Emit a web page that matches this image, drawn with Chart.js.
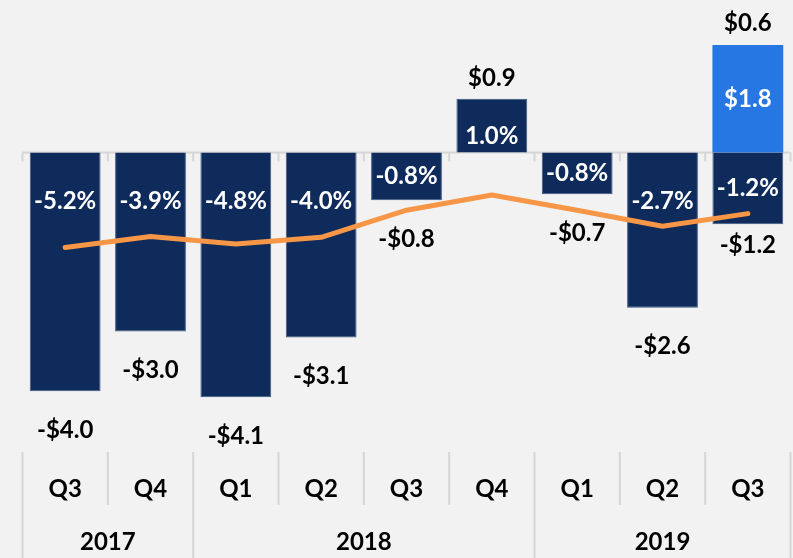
<!DOCTYPE html>
<html>
<head>
<meta charset="utf-8">
<script src="https://cdn.jsdelivr.net/npm/chart.js@4"></script>
<style>
  html, body { margin: 0; padding: 0; background: #f2f2f2; }
  #wrap { width: 793px; height: 558px; position: relative; }
</style>
</head>
<body>
<div id="wrap"><canvas id="c" width="793" height="558"></canvas></div>
<script>
// ---- data ----
const quarters = ['Q3', 'Q4', 'Q1', 'Q2', 'Q3', 'Q4', 'Q1', 'Q2', 'Q3'];
const years = ['2017', '2018', '2019'];
const quartersPerYear = [2, 4, 3];
const baseValues = [-4.0, -3.0, -4.1, -3.1, -0.8, 0.9, -0.7, -2.6, -1.2];
const addValues = [null, null, null, null, null, null, null, null, 1.8];
const pctValues = [-5.2, -3.9, -4.8, -4.0, -0.8, 1.0, -0.8, -2.7, -1.2];

// ---- styles ----
const NAVY = '#0e2b5b';
const LIGHT = '#2676e4';
const ORANGE = '#f79646';
const GRID = '#d6d6d6';
const FONT = 'Lato, "Open Sans", sans-serif';

function fmtDollar(v) {
  return (v < 0 ? '-' : '') + '$' + Math.abs(v).toFixed(1);
}
function fmtPct(v) {
  return v.toFixed(1) + '%';
}

const labelPlugin = {
  id: 'labels',
  beforeDatasetsDraw(chart) {
    const ctx = chart.ctx;
    const y = chart.scales.y;
    const zeroY = y.getPixelForValue(0);
    const n = quarters.length;
    ctx.save();
    ctx.strokeStyle = GRID;
    ctx.lineWidth = 2;
    ctx.beginPath();
    ctx.moveTo(chart.chartArea.left, zeroY);
    ctx.lineTo(chart.chartArea.right, zeroY);
    for (let i = 0; i <= n; i++) {
      const bx = boundary(chart, i);
      ctx.moveTo(bx, zeroY);
      ctx.lineTo(bx, zeroY + 9);
    }
    ctx.stroke();
    ctx.restore();
  },
  afterDatasetsDraw(chart) {
    const ctx = chart.ctx;
    const y = chart.scales.y;
    const zeroY = y.getPixelForValue(0);
    const baseMeta = chart.getDatasetMeta(1);
    const addMeta = chart.getDatasetMeta(2);
    ctx.save();
    ctx.textAlign = 'center';
    ctx.textBaseline = 'middle';
    ctx.font = 'bold 24px ' + FONT;
    for (let i = 0; i < baseValues.length; i++) {
      const bar = baseMeta.data[i];
      const v = baseValues[i];
      const stacked = addValues[i] != null;
      // percent label inside bar
      ctx.fillStyle = '#ffffff';
      let py;
      if (v < 0) {
        py = Math.min((bar.y + zeroY) / 2, zeroY + 49);
      } else {
        py = zeroY - 16;
      }
      ctx.fillText(fmtPct(pctValues[i]), bar.x, py);
      // dollar label
      ctx.fillStyle = '#000000';
      if (v < 0) {
        ctx.fillText(fmtDollar(v), bar.x, bar.y + (stacked ? 21 : 39));
      } else {
        ctx.fillText(fmtDollar(v), bar.x, bar.y - 21);
      }
      if (stacked) {
        const ab = addMeta.data[i];
        ctx.fillStyle = '#ffffff';
        ctx.fillText(fmtDollar(addValues[i]), ab.x, (ab.y + ab.base) / 2);
        ctx.fillStyle = '#000000';
        ctx.fillText(fmtDollar(v + addValues[i]), ab.x, ab.y - 22);
      }
    }
    ctx.restore();
  },
  afterDraw(chart) {
    const ctx = chart.ctx;
    const xs = chart.scales.x;
    const n = quarters.length;
    const top = 452, qBottom = 505, yBottom = 558;
    ctx.save();
    ctx.strokeStyle = GRID;
    ctx.lineWidth = 2;
    ctx.beginPath();
    const yearIdx = [0];
    quartersPerYear.reduce((acc, c) => { yearIdx.push(acc + c); return acc + c; }, 0);
    for (let i = 0; i <= n; i++) {
      const bx = boundary(chart, i);
      ctx.moveTo(bx, top);
      ctx.lineTo(bx, yearIdx.includes(i) ? yBottom : qBottom);
    }
    ctx.stroke();
    ctx.fillStyle = '#000000';
    ctx.textAlign = 'center';
    ctx.textBaseline = 'middle';
    ctx.font = 'bold 24px ' + FONT;
    for (let i = 0; i < n; i++) {
      ctx.fillText(quarters[i], xs.getPixelForValue(i), 489);
    }
    for (let k = 0; k < years.length; k++) {
      const a = boundary(chart, yearIdx[k]);
      const b = boundary(chart, yearIdx[k + 1]);
      ctx.fillText(years[k], (a + b) / 2, 542);
    }
    ctx.restore();
  }
};

function boundary(chart, i) {
  const xs = chart.scales.x;
  const n = quarters.length;
  if (i === 0) return chart.chartArea.left;
  if (i === n) return chart.chartArea.right;
  return (xs.getPixelForValue(i - 1) + xs.getPixelForValue(i)) / 2;
}

new Chart(document.getElementById('c'), {
  type: 'bar',
  data: {
    labels: quarters,
    datasets: [
      {
        type: 'line',
        label: 'Percent',
        data: pctValues,
        yAxisID: 'y2',
        borderColor: ORANGE,
        borderWidth: 5,
        pointRadius: 0,
        tension: 0,
        borderCapStyle: 'round',
        borderJoinStyle: 'round',
        order: 0
      },
      {
        label: 'Base',
        data: baseValues,
        backgroundColor: NAVY,
        borderColor: '#3d5883',
        borderWidth: 1,
        stack: 's',
        order: 1
      },
      {
        label: 'Add',
        data: addValues,
        backgroundColor: LIGHT,
        borderWidth: 0,
        stack: 's',
        order: 1
      }
    ]
  },
  options: {
    responsive: false,
    animation: false,
    devicePixelRatio: 1,
    layout: { padding: { left: 22.5, right: 2.5, top: 3.25, bottom: 107 } },
    datasets: { bar: { barPercentage: 0.83, categoryPercentage: 1.0 } },
    plugins: { legend: { display: false }, tooltip: { enabled: false } },
    scales: {
      x: { display: false, stacked: true },
      y: { display: false, stacked: true, min: -5.0, max: 2.5 },
      y2: { display: false, min: -29.3, max: 23.7 }
    }
  },
  plugins: [labelPlugin]
});
</script>
</body>
</html>
